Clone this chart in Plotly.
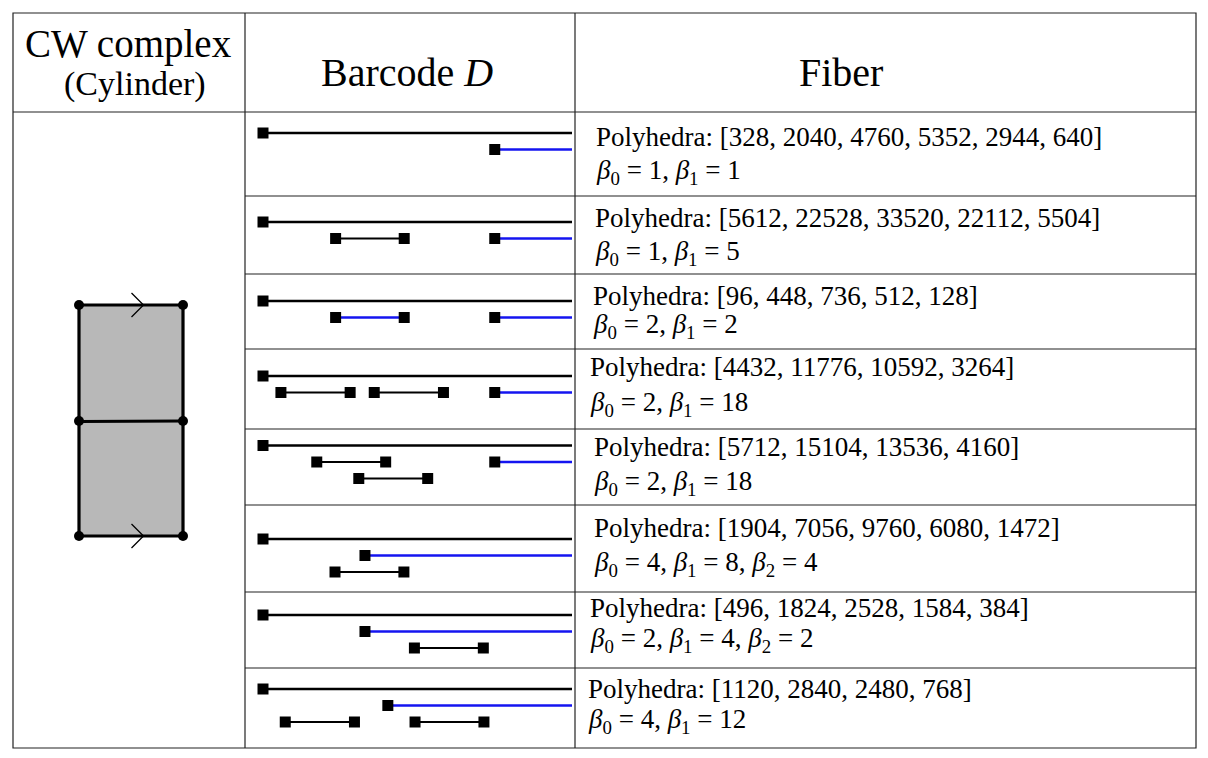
import plotly.graph_objects as go

# table text
header_left = "CW complex"
header_left_sub = "(Cylinder)"
header_mid = "Barcode <i>D</i>"
header_right = "Fiber"

polyhedra = [
    [328, 2040, 4760, 5352, 2944, 640],
    [5612, 22528, 33520, 22112, 5504],
    [96, 448, 736, 512, 128],
    [4432, 11776, 10592, 3264],
    [5712, 15104, 13536, 4160],
    [1904, 7056, 9760, 6080, 1472],
    [496, 1824, 2528, 1584, 384],
    [1120, 2840, 2480, 768],
]
betti = [
    [1, 1],
    [1, 5],
    [2, 2],
    [2, 18],
    [2, 18],
    [4, 8, 4],
    [2, 4, 2],
    [4, 12],
]

# barcode bars (death None = infinite)
bar_row   = [0, 0,  1, 1, 1,  2, 2, 2,  3, 3, 3, 3,  4, 4, 4, 4,  5, 5, 5,  6, 6, 6,  7, 7, 7, 7]
bar_level = [0, 1,  0, 1, 1,  0, 1, 1,  0, 1, 1, 1,  0, 1, 1, 2,  0, 1, 2,  0, 1, 2,  0, 1, 2, 2]
bar_birth = [0, 7.5,  0, 2.35, 7.5,  0, 2.35, 7.5,  0, 0.58, 3.6, 7.5,
             0, 1.74, 7.5, 3.1,  0, 3.3, 2.33,  0, 3.3, 4.9,  0, 4.04, 0.72, 4.92]
bar_death = [None, None,  None, 4.57, None,  None, 4.57, None,  None, 2.82, 5.84, None,
             None, 3.97, None, 5.33,  None, None, 4.56,  None, None, 7.13,  None, None, 2.96, 7.15]
bar_color = ["k", "b",  "k", "k", "b",  "k", "b", "b",  "k", "k", "k", "b",
             "k", "k", "b", "k",  "k", "b", "k",  "k", "b", "k",  "k", "b", "k", "k"]

# page offset (body margin) and figure size
OFF = 8
FW, FH = 1192, 742

col_x = [13, 245, 575, 1196]
head_top, head_bot = 13, 112
row_y = [112, 196, 274, 349, 429, 505, 592, 668, 748]
row_gap = [21, 26, 27, 27, 16.5, 34, 23, 21]
level_step = 16.5
inf_end = 10.0
colors = {"k": "black", "b": "#1414f0"}

text_x = [594, 593, 591, 588, 592, 592, 588, 586]
text_y1 = [137, 218, 296, 367, 447, 528, 608, 689]
text_y2 = [172, 253, 326, 404, 483, 564, 640, 721]

fig = go.Figure()

# barcode bars
sq_x, sq_y = [], []
for r, lv, b, d, c in zip(bar_row, bar_level, bar_birth, bar_death, bar_color):
    y = row_y[r] + row_gap[r] + lv * level_step
    end = inf_end if d is None else d
    if c == "b":
        width = 2.6
    elif d is None:
        width = 2.4
    else:
        width = 1.9
    fig.add_trace(go.Scatter(x=[b, end], y=[y, y], mode="lines",
                             line=dict(color=colors[c], width=width),
                             xaxis="x2", yaxis="y", hoverinfo="skip"))
    sq_x.append(b)
    sq_y.append(y)
    if d is not None:
        sq_x.append(d)
        sq_y.append(y)

fig.add_trace(go.Scatter(x=sq_x, y=sq_y, mode="markers",
                         marker=dict(symbol="square", size=11, color="black",
                                     line=dict(width=0)),
                         xaxis="x2", yaxis="y", hoverinfo="skip"))

shapes = []
line_style = dict(color="#222222", width=1.2)
# outer frame and columns
shapes.append(dict(type="rect", x0=col_x[0], x1=col_x[3], y0=head_top, y1=row_y[-1],
                   line=line_style, xref="x", yref="y"))
for cx in col_x[1:3]:
    shapes.append(dict(type="line", x0=cx, x1=cx, y0=head_top, y1=row_y[-1],
                       line=line_style, xref="x", yref="y"))
shapes.append(dict(type="line", x0=col_x[0], x1=col_x[3], y0=head_bot, y1=head_bot,
                   line=line_style, xref="x", yref="y"))
for ry in row_y[1:-1]:
    shapes.append(dict(type="line", x0=col_x[1], x1=col_x[3], y0=ry, y1=ry,
                       line=line_style, xref="x", yref="y"))

# cylinder cell
cl, cr, ct, cm, cb = 79, 183, 305, 421, 536
shapes.append(dict(type="path",
                   path=f"M {cl} {ct} L {cr} {ct} L {cr} {cb} L {cl} {cb} Z",
                   fillcolor="#b8b8b8", line=dict(color="black", width=3.2),
                   xref="x", yref="y", layer="below"))
shapes.append(dict(type="line", x0=cl, x1=cr, y0=cm + 0.5, y1=cm, xref="x", yref="y",
                   line=dict(color="black", width=3.2)))
for ay in (ct, cb):
    shapes.append(dict(type="path",
                       path=f"M 131.5 {ay - 12} L 143.5 {ay} L 131.5 {ay + 12}",
                       line=dict(color="black", width=1.3), xref="x", yref="y"))
for vx in (cl, cr):
    for vy in (ct, cm, cb):
        shapes.append(dict(type="circle", x0=vx - 5, x1=vx + 5, y0=vy - 5, y1=vy + 5,
                           fillcolor="black", line=dict(width=0), xref="x", yref="y"))

serif = "Liberation Serif"
annotations = [
    dict(x=128, y=44, text=header_left, font=dict(size=39)),
    dict(x=135, y=84, text=header_left_sub, font=dict(size=34)),
    dict(x=407, y=72, text=header_mid, font=dict(size=40)),
    dict(x=841, y=72, text=header_right, font=dict(size=40)),
]
for i in range(len(polyhedra)):
    ptxt = "Polyhedra: [" + ", ".join(str(v) for v in polyhedra[i]) + "]"
    btxt = ", ".join(f"<i>β</i><sub>{k}</sub> = {v}" for k, v in enumerate(betti[i]))
    annotations.append(dict(x=text_x[i], y=text_y1[i], text=ptxt, xanchor="left",
                            font=dict(size=27)))
    annotations.append(dict(x=text_x[i], y=text_y2[i], text=btxt, xanchor="left",
                            font=dict(size=27)))
for a in annotations:
    a.setdefault("xanchor", "center")
    a.update(xref="x", yref="y", yanchor="middle", showarrow=False)
    a["font"].update(family=serif, color="black")

fig.update_layout(
    width=FW, height=FH,
    margin=dict(l=0, r=0, t=0, b=0),
    paper_bgcolor="white", plot_bgcolor="rgba(0,0,0,0)",
    showlegend=False,
    shapes=shapes, annotations=annotations,
    xaxis=dict(range=[OFF, OFF + FW], visible=False, domain=[0, 1], fixedrange=True),
    yaxis=dict(range=[OFF + FH, OFF], visible=False, domain=[0, 1], fixedrange=True),
    xaxis2=dict(range=[-18 / 30.9, 312 / 30.9], visible=False,
                domain=[(col_x[1] - OFF) / FW, (col_x[2] - OFF) / FW],
                anchor="y", fixedrange=True),
)

fig.write_html("out.html")
